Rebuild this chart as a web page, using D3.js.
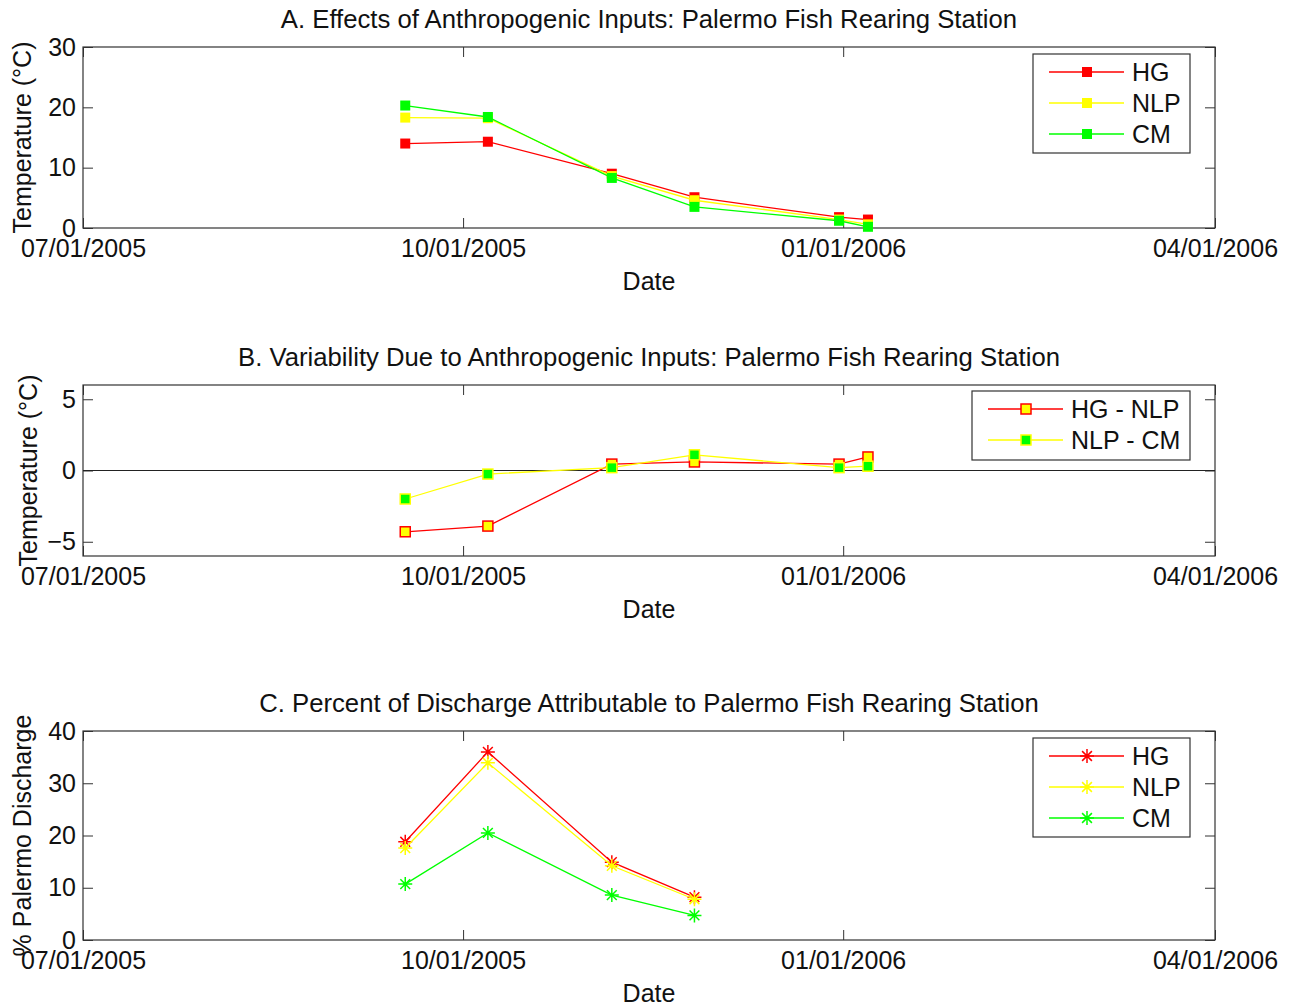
<!DOCTYPE html>
<html>
<head>
<meta charset="utf-8">
<script src="https://cdn.jsdelivr.net/npm/d3@7"></script>
<style>
  body { margin: 0; background: #fff; }
  svg text { font-family: "Liberation Sans", Arial, sans-serif; fill: #111; }
  .axis path { display: none; }
  .axis line { stroke: #333; }
</style>
</head>
<body>
<svg width="1298" height="1006"></svg>
<script>
// sample dates (panels A and B)
var dates = ["2005-09-17", "2005-10-07", "2005-11-06", "2005-11-26", "2005-12-31", "2006-01-07"];
// panel A: temperature (deg C)
var tempHG  = [14.0, 14.3, 9.0, 5.1, 1.8, 1.4];
var tempNLP = [18.3, 18.2, 8.6, 4.6, 1.4, 0.6];
var tempCM  = [20.3, 18.4, 8.3, 3.5, 1.2, 0.2];
// panel B: differences
var diffHGNLP = [-4.3, -3.9, 0.45, 0.6, 0.45, 0.95];
var diffNLPCM = [-2.0, -0.25, 0.2, 1.1, 0.2, 0.3];
// panel C: percent of discharge
var pctDates = ["2005-09-17", "2005-10-07", "2005-11-06", "2005-11-26"];
var pctHG  = [18.8, 36.0, 14.9, 8.2];
var pctNLP = [17.6, 33.9, 14.2, 7.8];
var pctCM  = [10.7, 20.5, 8.6, 4.7];

var xTicks = ["2005-07-01", "2005-10-01", "2006-01-01", "2006-04-01"];
var xTickLabels = ["07/01/2005", "10/01/2005", "01/01/2006", "04/01/2006"];

var parseTime = d3.timeParse("%Y-%m-%d");
var RED = "#ff0000", YEL = "#ffff00", GRN = "#00ff00";

var svg = d3.select("svg");
var left = 83, right = 1215, fs = 25, titleFs = 25.7;

var x = d3.scaleTime()
  .domain([parseTime(xTicks[0]), parseTime(xTicks[3])])
  .range([left, right]);

function asterisk(s) {
  var d = s * 0.7;
  return "M" + (-s) + ",0L" + s + ",0M0," + (-s) + "L0," + s +
    "M" + (-d) + "," + (-d) + "L" + d + "," + d + "M" + (-d) + "," + d + "L" + d + "," + (-d);
}

function panel(opt) {
  var y = d3.scaleLinear().domain(opt.ydomain).range([opt.bottom, opt.top]);
  var g = svg.append("g");
  var tickDates = xTicks.map(parseTime);

  // ticks, inward on all four sides
  g.append("g").attr("class", "axis").attr("transform", "translate(0," + opt.bottom + ")")
    .call(d3.axisBottom(x).tickValues(tickDates).tickSizeInner(-10).tickSizeOuter(0).tickPadding(11)
      .tickFormat(function (d, i) { return xTickLabels[i]; }))
    .selectAll("text").style("font-size", fs + "px").style("font-family", null);
  g.append("g").attr("class", "axis").attr("transform", "translate(0," + opt.top + ")")
    .call(d3.axisTop(x).tickValues(tickDates).tickSizeInner(-10).tickSizeOuter(0).tickFormat(""));
  g.append("g").attr("class", "axis").attr("transform", "translate(" + left + ",0)")
    .call(d3.axisLeft(y).tickValues(opt.yticks).tickSizeInner(-10).tickSizeOuter(0).tickPadding(7))
    .selectAll("text").style("font-size", fs + "px").style("font-family", null);
  g.append("g").attr("class", "axis").attr("transform", "translate(" + right + ",0)")
    .call(d3.axisRight(y).tickValues(opt.yticks).tickSizeInner(-10).tickSizeOuter(0).tickFormat(""));
  g.selectAll(".axis text").attr("fill", "#111");

  g.append("rect").attr("x", left).attr("y", opt.top)
    .attr("width", right - left).attr("height", opt.bottom - opt.top)
    .attr("fill", "none").attr("stroke", "#333").attr("stroke-width", 1.2);

  if (opt.zeroLine) {
    g.append("line").attr("x1", left).attr("x2", right)
      .attr("y1", y(0)).attr("y2", y(0)).attr("stroke", "#222").attr("stroke-width", 1.2);
  }

  var line = d3.line().x(function (d) { return x(d.date); }).y(function (d) { return y(d.value); });

  opt.series.forEach(function (s) {
    var data = s.values.map(function (v, i) { return { date: parseTime(opt.dates[i]), value: v }; });
    g.append("path").datum(data).attr("d", line)
      .attr("fill", "none").attr("stroke", s.color).attr("stroke-width", 1.3);
    drawMarkers(g, data.map(function (d) { return [x(d.date), y(d.value)]; }), s);
  });

  // title, labels
  svg.append("text").attr("x", (left + right) / 2).attr("y", opt.top - 19)
    .attr("text-anchor", "middle").style("font-size", titleFs + "px").text(opt.title);
  svg.append("text").attr("x", (left + right) / 2).attr("y", opt.bottom + 62)
    .attr("text-anchor", "middle").style("font-size", fs + "px").text("Date");
  svg.append("text")
    .attr("transform", "translate(" + opt.ylabelX + "," + ((opt.top + opt.bottom) / 2) + ") rotate(-90)")
    .attr("text-anchor", "middle").style("font-size", fs + "px").text(opt.ylabel);

  // legend
  var L = opt.legend;
  var lg = svg.append("g");
  lg.append("rect").attr("x", L.x).attr("y", L.y).attr("width", L.w).attr("height", L.h)
    .attr("fill", "#fff").attr("stroke", "#333").attr("stroke-width", 1.2);
  opt.series.forEach(function (s, i) {
    var cy = L.y + 18 + i * 31;
    lg.append("line").attr("x1", L.x + 16).attr("x2", L.x + 91).attr("y1", cy).attr("y2", cy)
      .attr("stroke", s.color).attr("stroke-width", 1.3);
    drawMarkers(lg, [[L.x + 54, cy]], s);
    lg.append("text").attr("x", L.x + 99).attr("y", cy + 9).style("font-size", fs + "px").text(s.name);
  });
}

function drawMarkers(g, pts, s) {
  if (s.marker === "square") {
    g.selectAll(null).data(pts).enter().append("rect")
      .attr("x", function (p) { return p[0] - 5; }).attr("y", function (p) { return p[1] - 5; })
      .attr("width", 10).attr("height", 10)
      .attr("fill", s.fill).attr("stroke", s.edge).attr("stroke-width", s.edge === s.fill ? 0 : 1.5);
  } else {
    g.selectAll(null).data(pts).enter().append("path")
      .attr("transform", function (p) { return "translate(" + p[0] + "," + p[1] + ")"; })
      .attr("d", asterisk(7)).attr("fill", "none").attr("stroke", s.color).attr("stroke-width", 1.5);
  }
}

panel({
  top: 47, bottom: 228, ydomain: [0, 30], yticks: [0, 10, 20, 30], dates: dates,
  title: "A. Effects of Anthropogenic Inputs: Palermo Fish Rearing Station",
  ylabel: "Temperature (\u00b0C)", ylabelX: 31,
  legend: { x: 1033, y: 54, w: 157, h: 99 },
  series: [
    { name: "HG", values: tempHG, color: RED, marker: "square", fill: RED, edge: RED },
    { name: "NLP", values: tempNLP, color: YEL, marker: "square", fill: YEL, edge: YEL },
    { name: "CM", values: tempCM, color: GRN, marker: "square", fill: GRN, edge: GRN }
  ]
});

panel({
  top: 385, bottom: 556, ydomain: [-6, 6], yticks: [-5, 0, 5], dates: dates, zeroLine: true,
  title: "B. Variability Due to Anthropogenic Inputs: Palermo Fish Rearing Station",
  ylabel: "Temperature (\u00b0C)", ylabelX: 37,
  legend: { x: 972, y: 391, w: 218, h: 69 },
  series: [
    { name: "HG - NLP", values: diffHGNLP, color: RED, marker: "square", fill: YEL, edge: RED },
    { name: "NLP - CM", values: diffNLPCM, color: YEL, marker: "square", fill: GRN, edge: YEL }
  ]
});

panel({
  top: 731, bottom: 940, ydomain: [0, 40], yticks: [0, 10, 20, 30, 40], dates: pctDates,
  title: "C. Percent of Discharge Attributable to Palermo Fish Rearing Station",
  ylabel: "% Palermo Discharge", ylabelX: 31,
  legend: { x: 1033, y: 738, w: 157, h: 99 },
  series: [
    { name: "HG", values: pctHG, color: RED, marker: "star" },
    { name: "NLP", values: pctNLP, color: YEL, marker: "star" },
    { name: "CM", values: pctCM, color: GRN, marker: "star" }
  ]
});
</script>
</body>
</html>
